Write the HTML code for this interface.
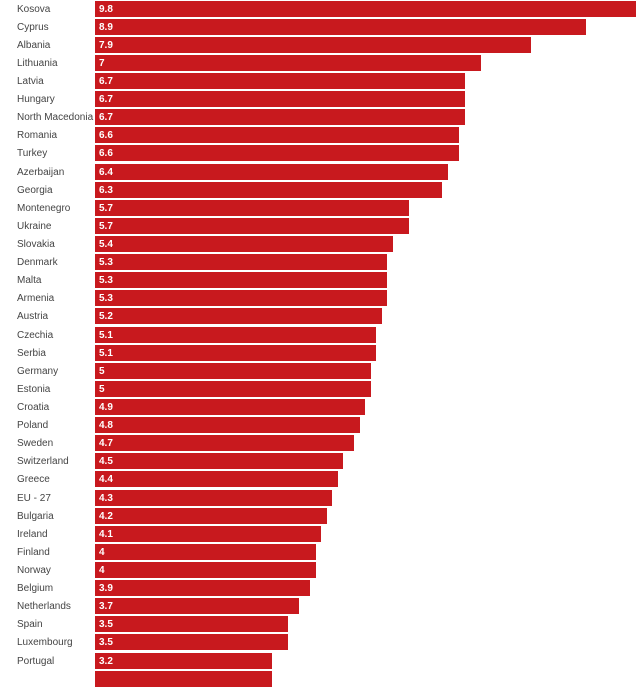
<!DOCTYPE html>
<html><head><meta charset="utf-8"><style>
body{margin:0;width:640px;height:672px;overflow:hidden;background:#fff;font-family:"Liberation Sans",sans-serif;position:relative}
.l{position:absolute;left:17px;font-size:10px;color:#444;line-height:17px}
.b{position:absolute;left:95px;height:16px;background:#c8191e;color:#fff;font-size:10px;font-weight:bold;line-height:17px;padding-left:4px;box-sizing:border-box}
</style></head><body>
<script>
const d=[["Kosova",9.8],["Cyprus",8.9],["Albania",7.9],["Lithuania",7],["Latvia",6.7],["Hungary",6.7],["North Macedonia",6.7],["Romania",6.6],["Turkey",6.6],["Azerbaijan",6.4],["Georgia",6.3],["Montenegro",5.7],["Ukraine",5.7],["Slovakia",5.4],["Denmark",5.3],["Malta",5.3],["Armenia",5.3],["Austria",5.2],["Czechia",5.1],["Serbia",5.1],["Germany",5],["Estonia",5],["Croatia",4.9],["Poland",4.8],["Sweden",4.7],["Switzerland",4.5],["Greece",4.4],["EU - 27",4.3],["Bulgaria",4.2],["Ireland",4.1],["Finland",4],["Norway",4],["Belgium",3.9],["Netherlands",3.7],["Spain",3.5],["Luxembourg",3.5],["Portugal",3.2],["",3.2]];
let h="";d.forEach((r,i)=>{const t=(0.5+i*18.11).toFixed(1);h+=`<div class="l" style="top:${t}px">${r[0]}</div><div class="b" style="top:${t}px;width:${(r[1]*55.15).toFixed(1)}px">${r[0]?r[1]:""}</div>`});
document.write(h);
</script>
</body></html>
